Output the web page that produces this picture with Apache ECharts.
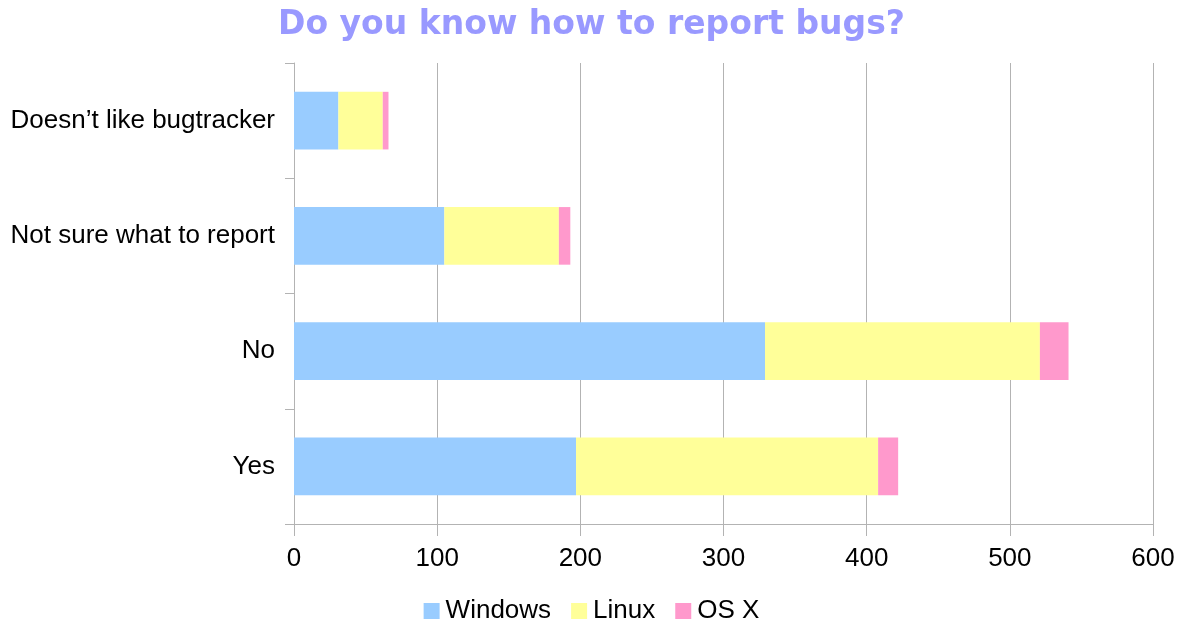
<!DOCTYPE html>
<html><head><meta charset="utf-8">
<script src="https://cdn.jsdelivr.net/npm/echarts@6/dist/echarts.min.js"></script>
<style>html,body{margin:0;padding:0;background:#fff}#c{width:1183px;height:626px}</style>
</head><body><div id="c"></div>
<script>
const categories = ['Yes', 'No', 'Not sure what to report', 'Doesn\u2019t like bugtracker'];
const windows = [197, 329, 105, 31];
const linux = [211, 192, 80, 31];
const osx = [14, 20, 8, 4];
const seriesNames = ['Windows', 'Linux', 'OS X'];
const colors = ['#99ccff', '#ffff99', '#ff99cc'];

const chart = echarts.init(document.getElementById('c'));
const mk = (name, data, color) => ({
  name, type: 'bar', stack: 'total', data, barCategoryGap: '50%',
  itemStyle: { color }
});
chart.setOption({
  animation: false,
  title: {
    text: 'Do you know how to report bugs?', left: 'center', top: 4,
    textStyle: { fontFamily: 'DejaVu Sans', fontWeight: 'bold', fontSize: 33, color: '#9999ff' }
  },
  legend: {
    bottom: -3, left: 'center', itemWidth: 16, itemHeight: 16, itemGap: 20, icon: 'rect',
    textStyle: { fontFamily: 'Liberation Sans', fontSize: 26, color: '#000', padding: [0, 0, 0, 1] },
    data: seriesNames
  },
  grid: { left: 294, right: 30, top: 63, bottom: 102, containLabel: false },
  xAxis: {
    type: 'value', min: 0, max: 600, interval: 100,
    axisLine: { show: true, lineStyle: { color: '#b3b3b3' } },
    axisTick: { show: true, length: 12, lineStyle: { color: '#b3b3b3' } },
    splitLine: { show: true, lineStyle: { color: '#b3b3b3' } },
    axisLabel: { fontFamily: 'Liberation Sans', fontSize: 26, color: '#000', margin: 22 }
  },
  yAxis: {
    type: 'category', data: categories,
    axisLine: { show: true, lineStyle: { color: '#b3b3b3' } },
    axisTick: { show: true, length: 9, lineStyle: { color: '#b3b3b3' } },
    axisLabel: { fontFamily: 'Liberation Sans', fontSize: 26, color: '#000', margin: 19, padding: [6, 0, 0, 0] }
  },
  series: [
    mk(seriesNames[0], windows, colors[0]),
    mk(seriesNames[1], linux, colors[1]),
    mk(seriesNames[2], osx, colors[2])
  ]
});
</script></body></html>
